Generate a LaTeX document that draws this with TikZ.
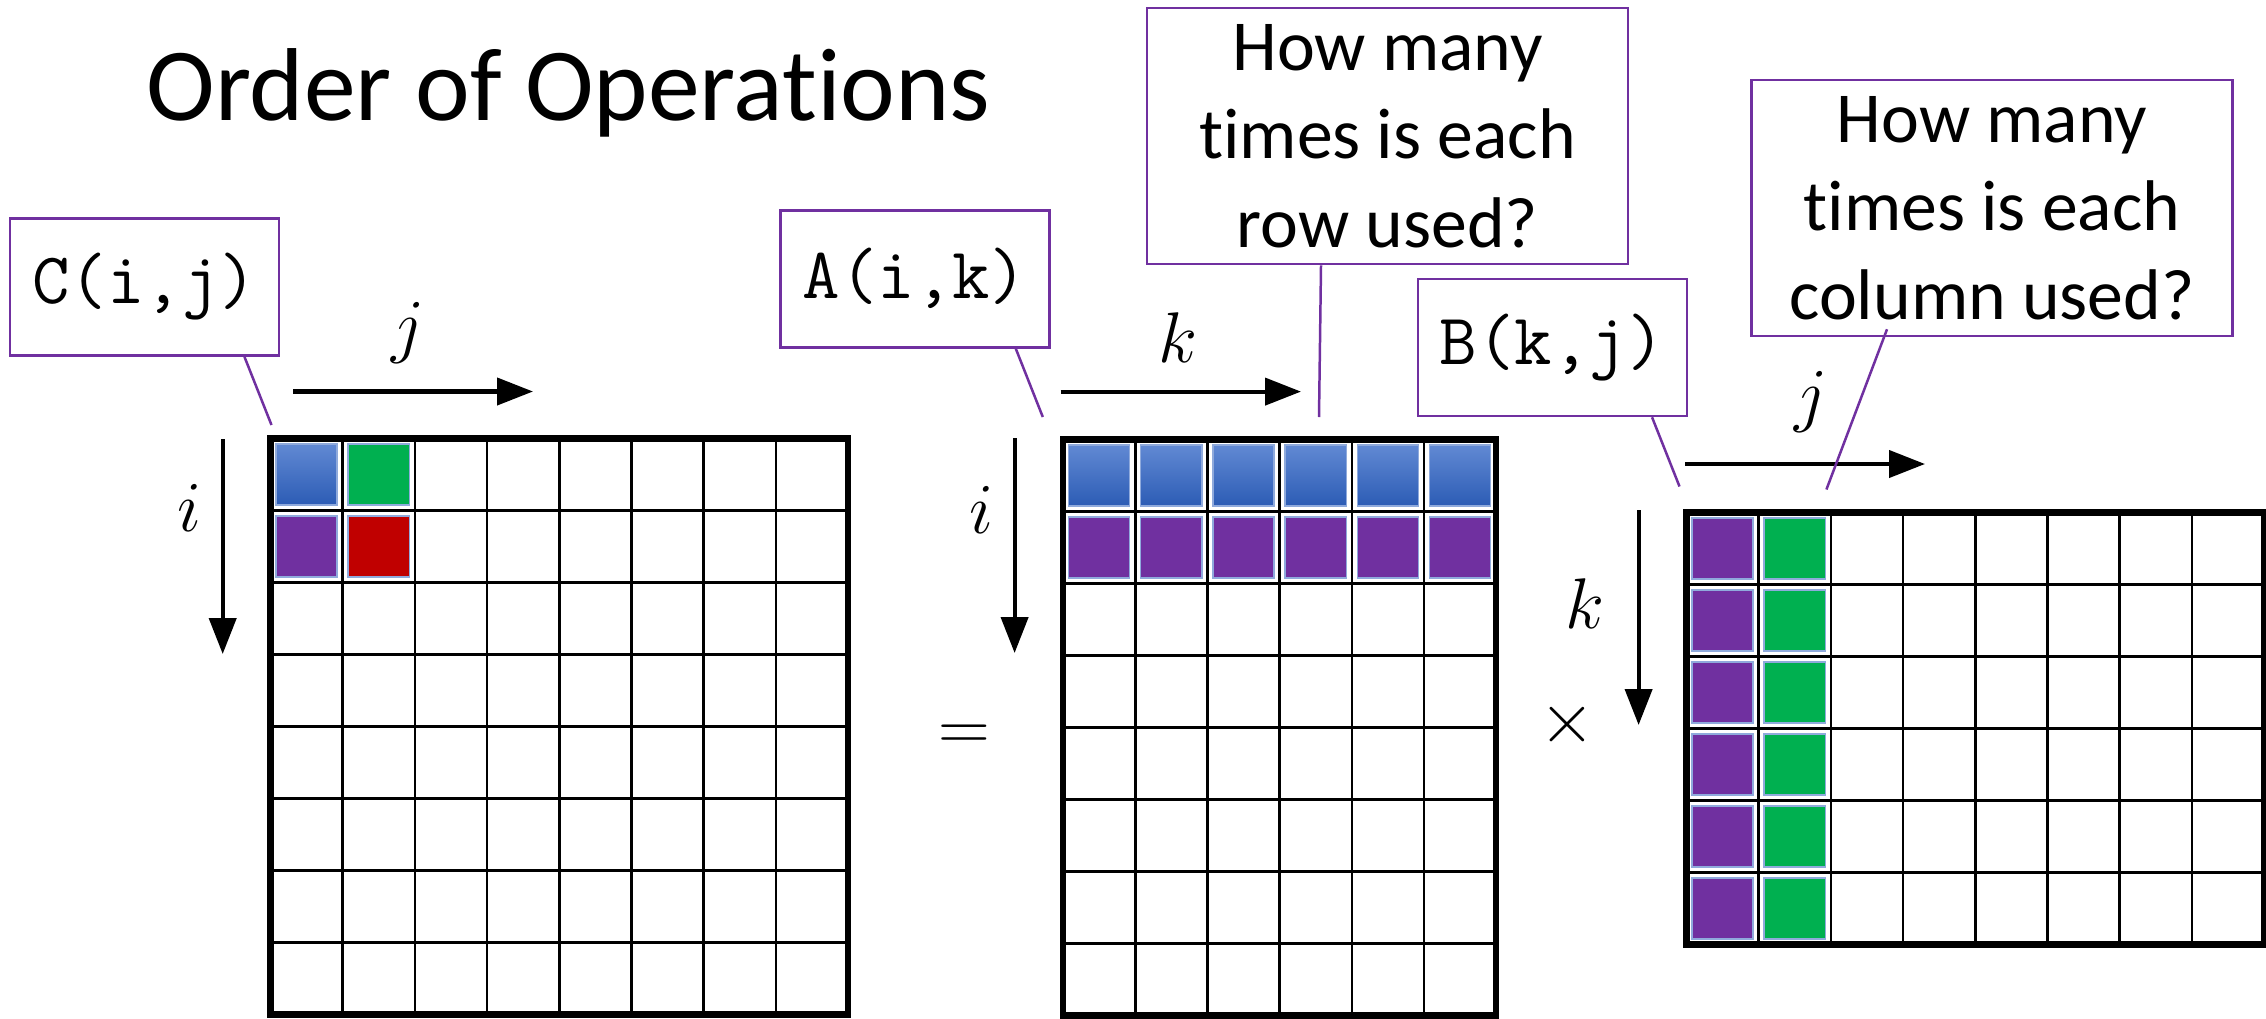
\RequirePackage{fix-cm}
\documentclass[tikz,border=0pt]{standalone}
\usepackage{fontspec}
\setmainfont{Carlito}[Ligatures={NoCommon,NoContextual,NoRequired}]
\usetikzlibrary{arrows.meta,calc}
\definecolor{callout}{HTML}{7030A0}
\definecolor{cpurple}{HTML}{7030A0}
\definecolor{cgreen}{HTML}{00B050}
\definecolor{cred}{HTML}{C00000}
\definecolor{cbluetop}{HTML}{6189D3}
\definecolor{cbluebot}{HTML}{2C5CB5}
\definecolor{cedge}{HTML}{8FAADC}
\tikzset{
  lblbox/.style={draw=callout, line width=2.5pt, minimum width=269bp, minimum height=137bp, inner sep=0pt, font=\fontsize{73}{80}\selectfont\ttfamily},
  qbox/.style={draw=callout, line width=2.5pt, minimum width=481bp, minimum height=256bp, inner sep=0pt, align=center, font=\fontsize{72}{89}\selectfont},
  callline/.style={draw=callout, line width=2.5pt},
  axisarrow/.style={line width=4.2pt, -{Triangle[length=36bp,width=27bp]}},
  mathlbl/.style={font=\fontsize{72}{80}\selectfont, inner sep=0pt},
  gridline/.style={line width=2.6pt},
  gridframe/.style={line width=6.5pt, line join=miter},
  cellblue/.style={top color=cbluetop, bottom color=cbluebot, draw=cedge, line width=1.5pt},
  cellpurple/.style={fill=cpurple, draw=cedge, line width=1.5pt},
  cellgreen/.style={fill=cgreen, draw=cedge, line width=1.5pt},
  cellred/.style={fill=cred, draw=cedge, line width=1.5pt},
}
\newcommand\drawmatrix[4]{%
  \pgfmathtruncatemacro\mxc{#3-1}%
  \pgfmathtruncatemacro\mxr{#4-1}%
  \foreach \c in {1,...,\mxc} \draw[gridline] ({#1+\c*72.2},#2) -- ++(0,{#4*72});
  \foreach \r in {1,...,\mxr} \draw[gridline] (#1,{#2+\r*72}) -- ++({#3*72.2},0);
  \draw[gridframe] (#1,#2) rectangle ++({#3*72.2},{#4*72});
}
\newcommand\cellfill[5]{%
  \path[#5] ({#1+#3*72.2+5.5},{#2+#4*72+5.5}) rectangle ++(61.2,61);
}
\begin{document}
\begin{tikzpicture}[x=1bp,y=-1bp]
\useasboundingbox (0,0) rectangle (2266,1018);
\fill[white] (0,0) rectangle (2266,1018);

% title
\node[anchor=base, font=\fontsize{104}{120}\selectfont, inner sep=0pt] (title) at (568.5,120) {Order of Operations};

% ---- matrix C
\cellfill{270.5}{438.5}{0}{0}{cellblue}
\cellfill{270.5}{438.5}{1}{0}{cellgreen}
\cellfill{270.5}{438.5}{0}{1}{cellpurple}
\cellfill{270.5}{438.5}{1}{1}{cellred}
\drawmatrix{270.5}{438.5}{8}{8}

% ---- matrix A
\foreach \c in {0,...,5} {
  \cellfill{1063}{439.5}{\c}{0}{cellblue}
  \cellfill{1063}{439.5}{\c}{1}{cellpurple}
}
\drawmatrix{1063}{439.5}{6}{8}

% ---- matrix B
\foreach \r in {0,...,5} {
  \cellfill{1686.5}{512.5}{0}{\r}{cellpurple}
  \cellfill{1686.5}{512.5}{1}{\r}{cellgreen}
}
\drawmatrix{1686.5}{512.5}{8}{6}

% ---- axis arrows
\coordinate (cj0) at (293,391.5);  \coordinate (cj1) at (533,391.5);
\coordinate (ci0) at (222.7,439);  \coordinate (ci1) at (222.7,654);
\coordinate (ak0) at (1060.6,391.6); \coordinate (ak1) at (1301,391.6);
\coordinate (ai0) at (1014.6,438); \coordinate (ai1) at (1014.6,653);
\coordinate (bj0) at (1685,464);   \coordinate (bj1) at (1925,464);
\coordinate (bk0) at (1638.6,510); \coordinate (bk1) at (1638.6,725);
\draw[axisarrow] (cj0) -- (cj1);
\draw[axisarrow] (ci0) -- (ci1);
\draw[axisarrow] (ak0) -- (ak1);
\draw[axisarrow] (ai0) -- (ai1);
\draw[axisarrow] (bj0) -- (bj1);
\draw[axisarrow] (bk0) -- (bk1);

% ---- axis labels and operators
\node[mathlbl] (lcj) at (407.6,333) {$j$};
\node[mathlbl] (lci) at (189,508) {$i$};
\node[mathlbl] (lak) at (1177.7,337.7) {$k$};
\node[mathlbl] (lai) at (981,509.7) {$i$};
\node[mathlbl] (lbj) at (1811.5,402) {$j$};
\node[mathlbl] (lbk) at (1585,604) {$k$};
\node[mathlbl] (eq) at (964,738) {$=$};
\node[mathlbl] (times) at (1567,725) {$\times$};

% ---- callout boxes
\node[lblbox] (cbox) at (144.7,287) {C(i,j)};
\node[lblbox] (abox) at (915,278.8) {A(i,k)};
\node[lblbox] (bbox) at (1552.3,347.5) {B(k,j)};
\node[qbox] (rowbox) at (1387.5,136.2) {How many\\times is each\\row used?};
\node[qbox] (colbox) at (1992,208) {How many\\times is each\\column used?};

\coordinate (cpt) at (271.5,425);
\coordinate (apt) at (1042.8,417);
\coordinate (bpt) at (1679.5,486.5);
\coordinate (rpt) at (1319,417);
\coordinate (kpt) at (1826.4,489.5);
\draw[callline] ($(cbox.south east)+(-36,0)$) -- (cpt);
\draw[callline] ($(abox.south east)+(-35,0)$) -- (apt);
\draw[callline] ($(bbox.south east)+(-36,0)$) -- (bpt);
\draw[callline] ($(rowbox.south)+(-66.5,0)$) -- (rpt);
\draw[callline] ($(colbox.south)+(-105,-8)$) -- (kpt);
\end{tikzpicture}
\end{document}
